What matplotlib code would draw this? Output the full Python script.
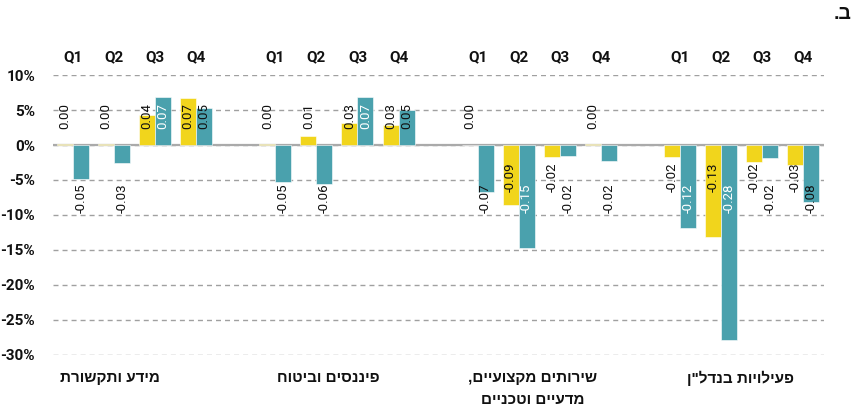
import matplotlib
matplotlib.use('Agg')
import matplotlib.pyplot as plt
import numpy as np

# ~~~ data (fractions) ~~~
categories = ['מידע ותקשורת', 'פיננסים וביטוח', 'שירותים מקצועיים,\nמדעיים וטכניים', 'פעילויות בנדל"ן']
quarters = ['Q1', 'Q2', 'Q3', 'Q4']
yellow_vals = [
    [0.002, 0.001, 0.043, 0.067],
    [0.001, 0.013, 0.031, 0.028],
    [0.000, -0.086, -0.017, 0.002],
    [-0.017, -0.132, -0.024, -0.028],
]
teal_vals = [
    [-0.048, -0.026, 0.069, 0.053],
    [-0.053, -0.056, 0.069, 0.050],
    [-0.067, -0.147, -0.016, -0.023],
    [-0.119, -0.279, -0.019, -0.081],
]
y_ticks = [0.10, 0.05, 0.0, -0.05, -0.10, -0.15, -0.20, -0.25, -0.30]

YELLOW = '#f1d51c'
TEAL = '#4aa1ad'
NUM_FONT = ['Roboto', 'DejaVu Sans']
HEB_FONT = ['Liberation Sans', 'DejaVu Sans']


def heb(s):
    # matplotlib has no bidi support, so flip each line by hand
    return '\n'.join(line[::-1] for line in s.split('\n'))


group_step = 4.93
bar_w = 0.39
label_pos = {'pos': 0.042, 'neg_y': -0.046, 'neg_t': -0.076}
half_len = 0.018
cat_offsets = [0.9, 1.29, 1.34, 1.48]

fig = plt.figure(figsize=(8.59, 4.11), dpi=100)
ax = fig.add_axes([0.0617, 0.1363, 0.8976, 0.6812])

for g in range(len(categories)):
    x = g * group_step + np.arange(4)
    ax.bar(x - bar_w / 2, yellow_vals[g], bar_w, color=YELLOW, edgecolor='white', linewidth=0.4, zorder=3)
    ax.bar(x + bar_w / 2, teal_vals[g], bar_w, color=TEAL, edgecolor='white', linewidth=0.4, zorder=3)

    for q in range(4):
        for v, dx, kind in [(yellow_vals[g][q], -bar_w / 2, 'y'), (teal_vals[g][q], bar_w / 2, 't')]:
            if v >= 0:
                ly = label_pos['pos']
            else:
                ly = label_pos['neg_y'] if kind == 'y' else label_pos['neg_t']
            covered = kind == 't' and abs(v) > abs(ly) + half_len and np.sign(v) == np.sign(ly)
            ax.text(x[q] + dx, ly, f'{v:.2f}', rotation=90, ha='center', va='center',
                    fontsize=9.5, family=NUM_FONT, color='white' if covered else '#111111', zorder=4)
        ax.text(x[q], 1.064, quarters[q], transform=ax.get_xaxis_transform(), ha='center', va='center',
                fontsize=11, family=NUM_FONT, fontweight='bold', color='#111111')

    lines = categories[g].split('\n')
    for i, line in enumerate(lines):
        ax.text(g * group_step + cat_offsets[g], -0.082 - i * 0.079, heb(line),
                transform=ax.get_xaxis_transform(), ha='center', va='center',
                fontsize=11, family=HEB_FONT, fontweight='bold', color='#111111')

ax.set_xlim(-0.49, 3 * group_step + 3.51)
ax.set_ylim(-0.30, 0.10)
ax.set_yticks(y_ticks)
ax.set_yticklabels([f'{int(round(t * 100))}%' for t in y_ticks], family=NUM_FONT,
                   fontsize=11, fontweight='bold', color='#111111')
ax.tick_params(axis='y', length=0, pad=13)
ax.set_xticks([])
for s in ax.spines.values():
    s.set_visible(False)
ax.grid(axis='y', linestyle=(0, (3.6, 2.9)), color='#a0a0a0', linewidth=1, zorder=0)
ax.axhline(0, color='#aaaaaa', linewidth=1.6, zorder=2)
ax.set_axisbelow(True)

fig.text(0.981, 0.964, heb('ב.'), ha='center', va='center', fontsize=14,
         family=HEB_FONT, fontweight='bold', color='#111111')

fig.savefig('out.png', dpi=100)
